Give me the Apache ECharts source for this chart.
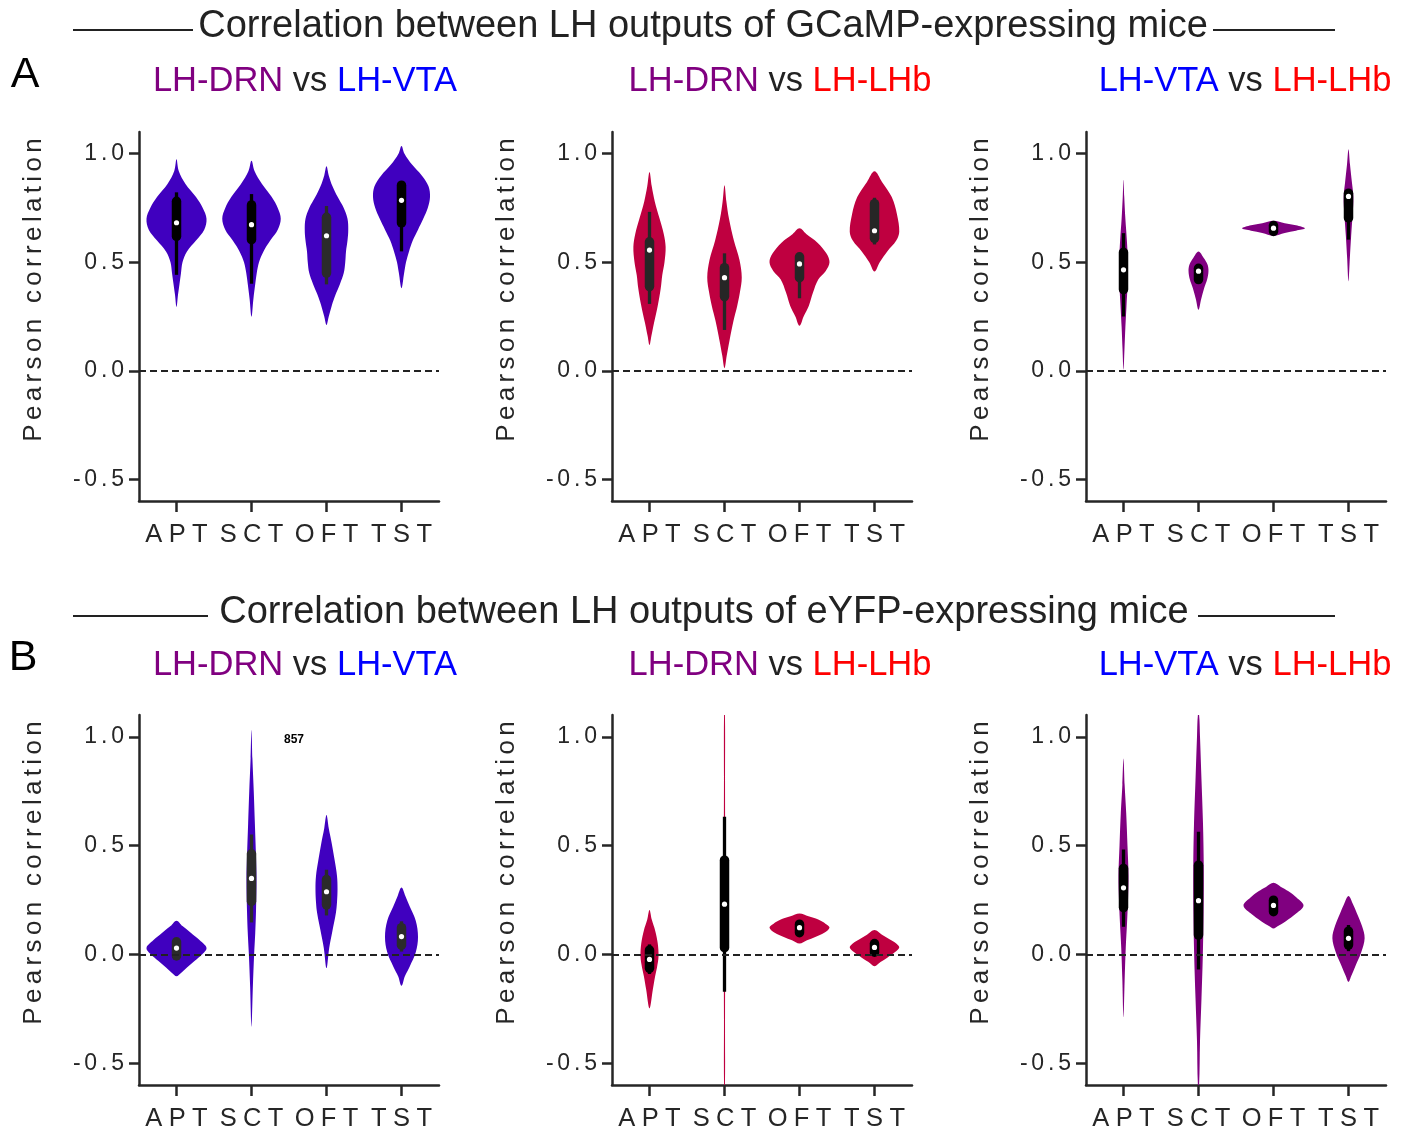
<!DOCTYPE html>
<html>
<head>
<meta charset="utf-8">
<script src="https://cdn.jsdelivr.net/npm/echarts@6/dist/echarts.min.js"></script>
<style>
  html, body { margin: 0; padding: 0; background: #fff; }
  #chart { width: 1408px; height: 1130px; }
</style>
</head>
<body>
<div id="chart"></div>
<script>
// categories and ticks
const categories = ['APT', 'SCT', 'OFT', 'TST'];
const yTicks = [-0.5, 0, 0.5, 1];

// violin outline: [value, half-width as share of the category band], top to bottom
// box: [whisker low, q1, median, q3, whisker high]

// GCaMP, LH-DRN vs LH-VTA
const gcampDrnVtaOutline = [
  [[0.974, 0], [0.92, 0.03], [0.86, 0.12], [0.80, 0.26], [0.75, 0.35], [0.70, 0.40], [0.65, 0.37], [0.60, 0.26], [0.55, 0.14], [0.50, 0.08], [0.45, 0.06], [0.40, 0.04], [0.35, 0.02], [0.294, 0]],
  [[0.967, 0], [0.92, 0.04], [0.86, 0.14], [0.80, 0.27], [0.75, 0.35], [0.70, 0.39], [0.65, 0.35], [0.60, 0.25], [0.55, 0.16], [0.50, 0.10], [0.45, 0.07], [0.40, 0.05], [0.33, 0.025], [0.249, 0]],
  [[0.942, 0], [0.90, 0.03], [0.85, 0.08], [0.80, 0.15], [0.75, 0.23], [0.70, 0.28], [0.65, 0.29], [0.60, 0.28], [0.55, 0.26], [0.50, 0.25], [0.45, 0.23], [0.40, 0.18], [0.35, 0.12], [0.30, 0.07], [0.25, 0.03], [0.211, 0]],
  [[1.036, 0], [1.0, 0.04], [0.95, 0.14], [0.90, 0.27], [0.85, 0.36], [0.80, 0.38], [0.75, 0.35], [0.70, 0.29], [0.65, 0.22], [0.60, 0.15], [0.55, 0.10], [0.50, 0.06], [0.45, 0.035], [0.38, 0]]
];
const gcampDrnVtaBox = [[0.442, 0.611, 0.682, 0.789, 0.822], [0.401, 0.596, 0.673, 0.772, 0.814], [0.398, 0.442, 0.622, 0.715, 0.759], [0.55, 0.673, 0.785, 0.863, 0.871]];

// GCaMP, LH-DRN vs LH-LHb
const gcampDrnLhbOutline = [
  [[0.916, 0], [0.85, 0.03], [0.78, 0.07], [0.70, 0.135], [0.63, 0.19], [0.57, 0.215], [0.50, 0.20], [0.44, 0.17], [0.38, 0.15], [0.30, 0.11], [0.22, 0.06], [0.16, 0.025], [0.119, 0]],
  [[0.855, 0], [0.78, 0.025], [0.70, 0.06], [0.60, 0.125], [0.51, 0.20], [0.43, 0.23], [0.36, 0.205], [0.30, 0.17], [0.23, 0.12], [0.14, 0.067], [0.07, 0.03], [0.012, 0]],
  [[0.656, 0], [0.63, 0.09], [0.59, 0.24], [0.54, 0.36], [0.50, 0.40], [0.46, 0.35], [0.42, 0.25], [0.36, 0.18], [0.30, 0.125], [0.25, 0.055], [0.207, 0]],
  [[0.919, 0], [0.87, 0.10], [0.80, 0.23], [0.72, 0.30], [0.64, 0.33], [0.60, 0.29], [0.55, 0.17], [0.50, 0.07], [0.457, 0]]
];
const gcampDrnLhbBox = [[0.308, 0.38, 0.556, 0.602, 0.732], [0.188, 0.334, 0.429, 0.483, 0.541], [0.334, 0.421, 0.492, 0.533, 0.533], [0.582, 0.602, 0.645, 0.778, 0.797]];

// GCaMP, LH-VTA vs LH-LHb
const gcampVtaLhbOutline = [
  [[0.88, 0], [0.80, 0.01], [0.70, 0.025], [0.60, 0.045], [0.50, 0.058], [0.40, 0.055], [0.30, 0.04], [0.20, 0.025], [0.10, 0.013], [0.005, 0]],
  [[0.55, 0], [0.52, 0.07], [0.49, 0.12], [0.46, 0.133], [0.42, 0.115], [0.38, 0.075], [0.33, 0.035], [0.281, 0]],
  [[0.691, 0], [0.68, 0.15], [0.67, 0.30], [0.656, 0.42], [0.645, 0.30], [0.635, 0.15], [0.622, 0]],
  [[1.021, 0], [0.95, 0.02], [0.87, 0.045], [0.80, 0.065], [0.72, 0.055], [0.62, 0.035], [0.52, 0.018], [0.412, 0]]
];
const gcampVtaLhbBox = [[0.25, 0.366, 0.465, 0.554, 0.634], [0.412, 0.412, 0.459, 0.48, 0.485], [0.634, 0.634, 0.657, 0.677, 0.677], [0.604, 0.696, 0.803, 0.826, 0.834]];

// eYFP, LH-DRN vs LH-VTA
const eyfpDrnVtaOutline = [
  [[0.155, 0], [0.13, 0.08], [0.10, 0.19], [0.065, 0.31], [0.03, 0.40], [0.0, 0.34], [-0.03, 0.24], [-0.06, 0.14], [-0.085, 0.06], [-0.10, 0]],
  [[1.031, 0], [0.90, 0.012], [0.75, 0.03], [0.60, 0.045], [0.45, 0.06], [0.35, 0.067], [0.20, 0.06], [0.10, 0.05], [0.0, 0.035], [-0.15, 0.018], [-0.333, 0]],
  [[0.64, 0], [0.58, 0.03], [0.51, 0.07], [0.43, 0.11], [0.36, 0.14], [0.30, 0.147], [0.24, 0.14], [0.19, 0.125], [0.11, 0.08], [0.03, 0.036], [-0.063, 0]],
  [[0.307, 0], [0.27, 0.05], [0.22, 0.11], [0.155, 0.19], [0.08, 0.22], [0.01, 0.19], [-0.055, 0.11], [-0.10, 0.045], [-0.144, 0]]
];
const eyfpDrnVtaBox = [[-0.015, -0.015, 0.029, 0.066, 0.066], [0.147, 0.236, 0.349, 0.47, 0.551], [0.179, 0.22, 0.288, 0.352, 0.389], [0.013, 0.034, 0.082, 0.131, 0.152]];

// eYFP, LH-DRN vs LH-LHb
const eyfpDrnLhbOutline = [
  [[0.204, 0], [0.16, 0.03], [0.11, 0.075], [0.05, 0.11], [-0.01, 0.12], [-0.06, 0.10], [-0.10, 0.075], [-0.16, 0.045], [-0.248, 0]],
  [[1.1, 0.006], [0.8, 0.007], [0.4, 0.009], [0.0, 0.009], [-0.3, 0.007], [-0.6, 0.006]],
  [[0.188, 0], [0.175, 0.12], [0.16, 0.25], [0.14, 0.35], [0.123, 0.40], [0.10, 0.33], [0.08, 0.21], [0.065, 0.10], [0.05, 0]],
  [[0.112, 0], [0.09, 0.10], [0.07, 0.20], [0.05, 0.29], [0.032, 0.33], [0.01, 0.27], [-0.015, 0.17], [-0.035, 0.08], [-0.054, 0]]
];
const eyfpDrnLhbBox = [[-0.09, -0.072, -0.023, 0.028, 0.046], [-0.172, 0.023, 0.231, 0.441, 0.632], [0.092, 0.092, 0.123, 0.147, 0.147], [0.002, 0.002, 0.032, 0.058, 0.058]];

// eYFP, LH-VTA vs LH-LHb
const eyfpVtaLhbOutline = [
  [[0.90, 0], [0.78, 0.015], [0.65, 0.036], [0.50, 0.053], [0.36, 0.067], [0.25, 0.06], [0.15, 0.048], [0.03, 0.03], [-0.12, 0.015], [-0.289, 0]],
  [[1.1, 0.008], [1.0, 0.02], [0.8, 0.04], [0.6, 0.06], [0.4, 0.07], [0.2, 0.068], [0.0, 0.058], [-0.2, 0.04], [-0.4, 0.02], [-0.6, 0.008]],
  [[0.329, 0], [0.31, 0.10], [0.29, 0.20], [0.26, 0.31], [0.225, 0.40], [0.19, 0.31], [0.15, 0.155], [0.13, 0.06], [0.119, 0]],
  [[0.268, 0], [0.23, 0.06], [0.19, 0.11], [0.13, 0.18], [0.074, 0.215], [0.01, 0.17], [-0.055, 0.09], [-0.10, 0.035], [-0.126, 0]]
];
const eyfpVtaLhbBox = [[0.127, 0.207, 0.306, 0.403, 0.482], [-0.069, 0.081, 0.247, 0.418, 0.564], [0.188, 0.188, 0.225, 0.257, 0.257], [0.015, 0.035, 0.074, 0.115, 0.135]];

const FONT = '"Liberation Sans", Arial, Helvetica, sans-serif';
const DRN = '#800080', VTA = '#0000ff', LHB = '#ff0000';
const INK = '#262626';

// helper: letter spaced text
function spaced(s, sep) {
  return s.split('').join(sep);
}

const panels = [
  { outline: gcampDrnVtaOutline, box: gcampDrnVtaBox, fill: '#4000bf', boxColor: ['#000', '#000', '#2b2b2b', '#000'], grid: { left: 139, top: 132, width: 300, height: 369 } },
  { outline: gcampDrnLhbOutline, box: gcampDrnLhbBox, fill: '#bf0040', boxColor: ['#262626', '#262626', '#262626', '#262626'], grid: { left: 612, top: 132, width: 300, height: 369 } },
  { outline: gcampVtaLhbOutline, box: gcampVtaLhbBox, fill: '#800080', boxColor: ['#000', '#000', '#000', '#000'], grid: { left: 1086, top: 132, width: 300, height: 369 } },
  { outline: eyfpDrnVtaOutline, box: eyfpDrnVtaBox, fill: '#4000bf', boxColor: ['#2b2b2b', '#2b2b2b', '#2b2b2b', '#2b2b2b'], grid: { left: 139, top: 715, width: 300, height: 370 } },
  { outline: eyfpDrnLhbOutline, box: eyfpDrnLhbBox, fill: '#bf0040', boxColor: ['#000', '#000', '#000', '#000'], grid: { left: 612, top: 715, width: 300, height: 370 } },
  { outline: eyfpVtaLhbOutline, box: eyfpVtaLhbBox, fill: '#800080', boxColor: ['#000', '#000', '#000', '#000'], grid: { left: 1086, top: 715, width: 300, height: 370 } }
];

function violinItem(panel) {
  return function (params, api) {
    const i = params.dataIndex;
    const band = api.size([1, 0])[0];
    const cx = api.coord([i, 0])[0];
    const left = [], right = [];
    panel.outline[i].forEach(function (p) {
      const y = api.coord([i, p[0]])[1];
      left.push([cx - p[1] * band, y]);
      if (p[1] > 0) right.unshift([cx + p[1] * band, y]);
    });
    const b = panel.box[i];
    const yLo = api.coord([i, b[0]])[1];
    const yQ1 = api.coord([i, b[1]])[1];
    const yMed = api.coord([i, b[2]])[1];
    const yQ3 = api.coord([i, b[3]])[1];
    const yHi = api.coord([i, b[4]])[1];
    const bw = 9.5;
    return {
      type: 'group',
      children: [
        { type: 'polygon', shape: { points: left.concat(right), smooth: 0.35 }, style: { fill: panel.fill } },
        { type: 'line', shape: { x1: cx, y1: yHi, x2: cx, y2: yLo }, style: { stroke: panel.boxColor[i], lineWidth: 3.3 } },
        { type: 'rect', shape: { x: cx - bw / 2, y: yQ3 - 3, width: bw, height: Math.max(yQ1 - yQ3 + 6, bw), r: bw / 2 }, style: { fill: panel.boxColor[i] } },
        { type: 'circle', shape: { cx: cx, cy: yMed, r: 2.6 }, style: { fill: '#fff' } }
      ]
    };
  };
}

const grids = [], xAxes = [], yAxes = [], series = [];
panels.forEach(function (panel, k) {
  grids.push(Object.assign({ outerBoundsMode: 'none', containLabel: false }, panel.grid));
  xAxes.push({
    type: 'category', gridIndex: k, data: categories, boundaryGap: true,
    axisLine: { show: true, onZero: false, lineStyle: { color: INK, width: 2.5 } },
    axisTick: { show: true, alignWithLabel: true, length: 11, lineStyle: { color: INK, width: 2.5 } },
    axisLabel: { show: true, interval: 0, color: INK, fontSize: 25.5, fontFamily: FONT, margin: 21,
      formatter: function (v) { return spaced(v, '\u2005'); } },
    splitLine: { show: false }
  });
  yAxes.push({
    type: 'value', gridIndex: k, min: -0.6, max: 1.1,
    axisLine: { show: true, lineStyle: { color: INK, width: 2.5 } },
    axisTick: { show: true, length: 10, customValues: yTicks, lineStyle: { color: INK, width: 2.5 } },
    axisLabel: { color: INK, fontSize: 23, fontFamily: FONT, margin: 15, customValues: yTicks,
      formatter: function (v) { return spaced(Number(v).toFixed(1), '\u2006'); } },
    splitLine: { show: false }
  });
  series.push({
    type: 'line', xAxisIndex: k, yAxisIndex: k, data: [], z: 1, silent: true,
    markLine: {
      silent: true, symbol: 'none', label: { show: false },
      lineStyle: { color: '#222', width: 2, type: [7, 4] },
      data: [{ yAxis: 0 }]
    }
  });
  series.push({
    type: 'custom', xAxisIndex: k, yAxisIndex: k, z: 3, clip: true, silent: true,
    renderItem: violinItem(panel),
    encode: { x: 0, y: 1 },
    data: categories.map(function (c, i) { return [i, panel.box[i][2]]; })
  });
});

function subtitle(x, y, a, aColor, b, bColor) {
  return {
    type: 'text', x: x, y: y,
    style: {
      text: '{a|' + a + '} {v|vs} {b|' + b + '}',
      align: 'center', verticalAlign: 'middle',
      font: '34.5px ' + FONT,
      rich: {
        a: { fill: aColor, fontSize: 34.5, fontFamily: FONT },
        v: { fill: '#222', fontSize: 34.5, fontFamily: FONT },
        b: { fill: bColor, fontSize: 34.5, fontFamily: FONT }
      }
    }
  };
}

function yName(x, y) {
  return {
    type: 'text', x: x, y: y, rotation: Math.PI / 2,
    style: { text: spaced('Pearson correlation', '\u2006'), align: 'center', verticalAlign: 'middle', font: '26px ' + FONT, fill: INK }
  };
}

function rule(x1, x2, y) {
  return { type: 'line', shape: { x1: x1, y1: y, x2: x2, y2: y }, style: { stroke: '#222', lineWidth: 2 } };
}

const graphics = [
  { type: 'text', x: 703, y: 27, style: { text: 'Correlation between LH outputs of GCaMP-expressing mice', align: 'center', verticalAlign: 'middle', font: '38px ' + FONT, fill: '#222' } },
  rule(73, 193, 30), rule(1213, 1335, 30),
  { type: 'text', x: 704, y: 613, style: { text: 'Correlation between LH outputs of eYFP-expressing mice', align: 'center', verticalAlign: 'middle', font: '38px ' + FONT, fill: '#222' } },
  rule(73, 208, 616), rule(1198, 1335, 616),
  { type: 'text', x: 25, y: 75, style: { text: 'A', align: 'center', verticalAlign: 'middle', font: '43px ' + FONT, fill: '#000' } },
  { type: 'text', x: 23, y: 658, style: { text: 'B', align: 'center', verticalAlign: 'middle', font: '43px ' + FONT, fill: '#000' } },
  subtitle(305, 81, 'LH-DRN', DRN, 'LH-VTA', VTA),
  subtitle(780, 81, 'LH-DRN', DRN, 'LH-LHb', LHB),
  subtitle(1245, 81, 'LH-VTA', VTA, 'LH-LHb', LHB),
  subtitle(305, 665, 'LH-DRN', DRN, 'LH-VTA', VTA),
  subtitle(780, 665, 'LH-DRN', DRN, 'LH-LHb', LHB),
  subtitle(1245, 665, 'LH-VTA', VTA, 'LH-LHb', LHB),
  yName(34, 290), yName(507, 290), yName(981, 290),
  yName(34, 873), yName(507, 873), yName(981, 873),
  { type: 'text', x: 294, y: 740, style: { text: '857', align: 'center', verticalAlign: 'middle', font: 'bold 12px ' + FONT, fill: '#000' } }
];

const myChart = echarts.init(document.getElementById('chart'), null, { renderer: 'canvas' });
myChart.setOption({
  animation: false,
  backgroundColor: '#fff',
  grid: grids,
  xAxis: xAxes,
  yAxis: yAxes,
  series: series,
  graphic: graphics
});
</script>
</body>
</html>
